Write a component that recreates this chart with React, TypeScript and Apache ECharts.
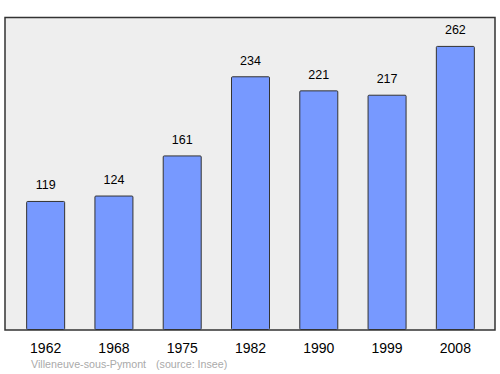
import React, { useEffect, useRef } from "react";
import * as echarts from "echarts";

const years = ["1962", "1968", "1975", "1982", "1990", "1999", "2008"];
const population = [119, 124, 161, 234, 221, 217, 262];
const commune = "Villeneuve-sous-Pymont";
const source = "(source: Insee)";

export default function App() {
  const ref = useRef<HTMLDivElement>(null);
  useEffect(() => {
    if (!ref.current) return;
    const chart = echarts.init(ref.current, null, { renderer: "svg" });
    const font = "Liberation Sans, Arial, sans-serif";
    chart.setOption({
      animation: false,
      textStyle: { fontFamily: font },
      graphic: [
        {
          type: "rect",
          z: -10,
          shape: { x: 5, y: 17.5, width: 490, height: 312.5 },
          style: { fill: "#eeeeee", stroke: "#333333", lineWidth: 1.5 },
        },
        {
          type: "text",
          x: 31,
          y: 364,
          style: {
            text: commune,
            fill: "#aaaaaa",
            fontSize: 10.7,
            fontFamily: font,
            verticalAlign: "middle",
          },
        },
        {
          type: "text",
          x: 156,
          y: 364,
          style: {
            text: source,
            fill: "#aaaaaa",
            fontSize: 10.7,
            fontFamily: font,
            verticalAlign: "middle",
          },
        },
      ],
      grid: { left: 11.5, right: 10.5, top: 17.5, bottom: 44, containLabel: false },
      xAxis: {
        type: "category",
        data: years,
        axisLine: { show: false },
        axisTick: { show: false },
        axisLabel: { color: "#000", fontSize: 14, margin: 11 },
      },
      yAxis: {
        type: "value",
        min: 0,
        max: 288.2,
        show: false,
        splitLine: { show: false },
      },
      series: [
        {
          type: "bar",
          data: population,
          barWidth: 39,
          itemStyle: { color: "#7799ff", borderColor: "#333333", borderWidth: 1, borderRadius: 1 },
          label: {
            show: true,
            position: "top",
            distance: 9,
            color: "#000",
            fontSize: 12.5,
          },
        },
      ],
    });
    return () => chart.dispose();
  }, []);
  return <div ref={ref} style={{ width: 500, height: 374, position: "absolute", left: 0, top: 0 }} />;
}
